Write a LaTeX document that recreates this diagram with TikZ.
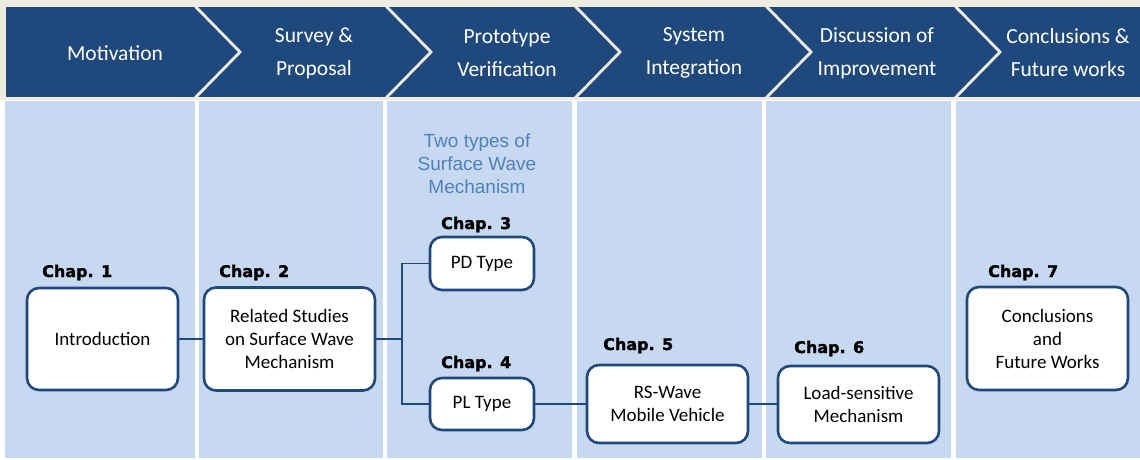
\documentclass[tikz,border=0pt]{standalone}
\usepackage{fontspec}
\setmainfont{Carlito}
\newfontfamily\chapfont[BoldFeatures={FakeBold=1.6}]{DejaVu Sans}
\newfontfamily\notefont{Liberation Sans}
\definecolor{bannerblue}{HTML}{1F497D}
\definecolor{colblue}{HTML}{C6D9F1}
\definecolor{sepcream}{HTML}{EEECE1}
\definecolor{noteblue}{HTML}{4F81BD}
\begin{document}
\begin{tikzpicture}[x=1pt,y=-1pt,
    chapbox/.style={draw=bannerblue, line width=2.6pt, rounded corners=12pt, fill=white,
        align=center, inner sep=0pt, font=\fontsize{19}{23}\selectfont},
    chaplabel/.style={anchor=base west, inner sep=0pt, font=\chapfont\bfseries\fontsize{16}{18}\selectfont},
    stage/.style={text=white, align=center, inner sep=0pt, font=\fontsize{21.5}{33}\selectfont},
    link/.style={draw=bannerblue, line width=1.6pt}]
    \useasboundingbox (0,0) rectangle (1140,459);
    \fill[white] (0,0) rectangle (1140,459);
    \fill[sepcream] (0,0) rectangle (1140,100);
    % banner and columns
    \fill[bannerblue] (6,7) rectangle (1140,97);
    \foreach \xa/\xb in {5/195, 199/383, 387/572, 577/762, 766/951, 956/1140}
        \fill[colblue] (\xa,101) rectangle (\xb,458);
    \foreach \xt in {195, 386, 575, 766, 955}
        \draw[sepcream, line width=2.8pt] (\xt,6) -- (\xt+45,52) -- (\xt,98);
    \node[stage] (motiv) at (115,53) {Motivation};
    \node[stage] (survey) at (314,53) {Survey \&\\Proposal};
    \node[stage] (proto) at (507,53) {Prototype\\Verification};
    \node[stage] (integ) at (694,53) {System\\Integration};
    \node[stage] (improv) at (877,53) {Discussion of\\Improvement};
    \node[stage] (concl) at (1068,53) {Conclusions \&\\Future works};
    % chapters
    \node[chapbox, minimum width=151pt, minimum height=102pt] (intro) at (102.5,339) {Introduction};
    \node[chapbox, minimum width=171pt, minimum height=103pt] (related) at (289.5,339) {Related Studies\\on Surface Wave\\Mechanism};
    \node[chapbox, minimum width=104pt, minimum height=53pt] (pd) at (482,263.5) {PD Type};
    \node[chapbox, minimum width=104pt, minimum height=52pt] (pl) at (482,404) {PL Type};
    \node[chapbox, minimum width=161pt, minimum height=78pt] (rswave) at (667.5,404) {RS-Wave\\Mobile Vehicle};
    \node[chapbox, minimum width=161pt, minimum height=77pt] (loadsens) at (858.5,404.5) {Load-sensitive\\Mechanism};
    \node[chapbox, minimum width=161pt, minimum height=103pt] (future) at (1047.5,338.5) {Conclusions\\and\\Future Works};
    \node[chaplabel] (c1) at (42,277) {Chap. 1};
    \node[chaplabel] (c2) at (219,277) {Chap. 2};
    \node[chaplabel] (c3) at (441,229) {Chap. 3};
    \node[chaplabel] (c4) at (441,368) {Chap. 4};
    \node[chaplabel] (c5) at (603,350) {Chap. 5};
    \node[chaplabel] (c6) at (794,353) {Chap. 6};
    \node[chaplabel] (c7) at (988,277) {Chap. 7};
    \node[text=noteblue, align=center, inner sep=0pt, font=\notefont\fontsize{19}{23}\selectfont] (twotypes) at (477,164) {Two types of\\Surface Wave\\Mechanism};
    % links
    \coordinate (split) at (402,339);
    \draw[link] (intro) -- (related);
    \draw[link] (related) -- (split);
    \draw[link] (split) |- (pd.west);
    \draw[link] (split) |- (pl.west);
    \draw[link] (pl) -- (rswave);
    \draw[link] (rswave.east) -- (loadsens.west |- rswave.east);
\end{tikzpicture}
\end{document}
